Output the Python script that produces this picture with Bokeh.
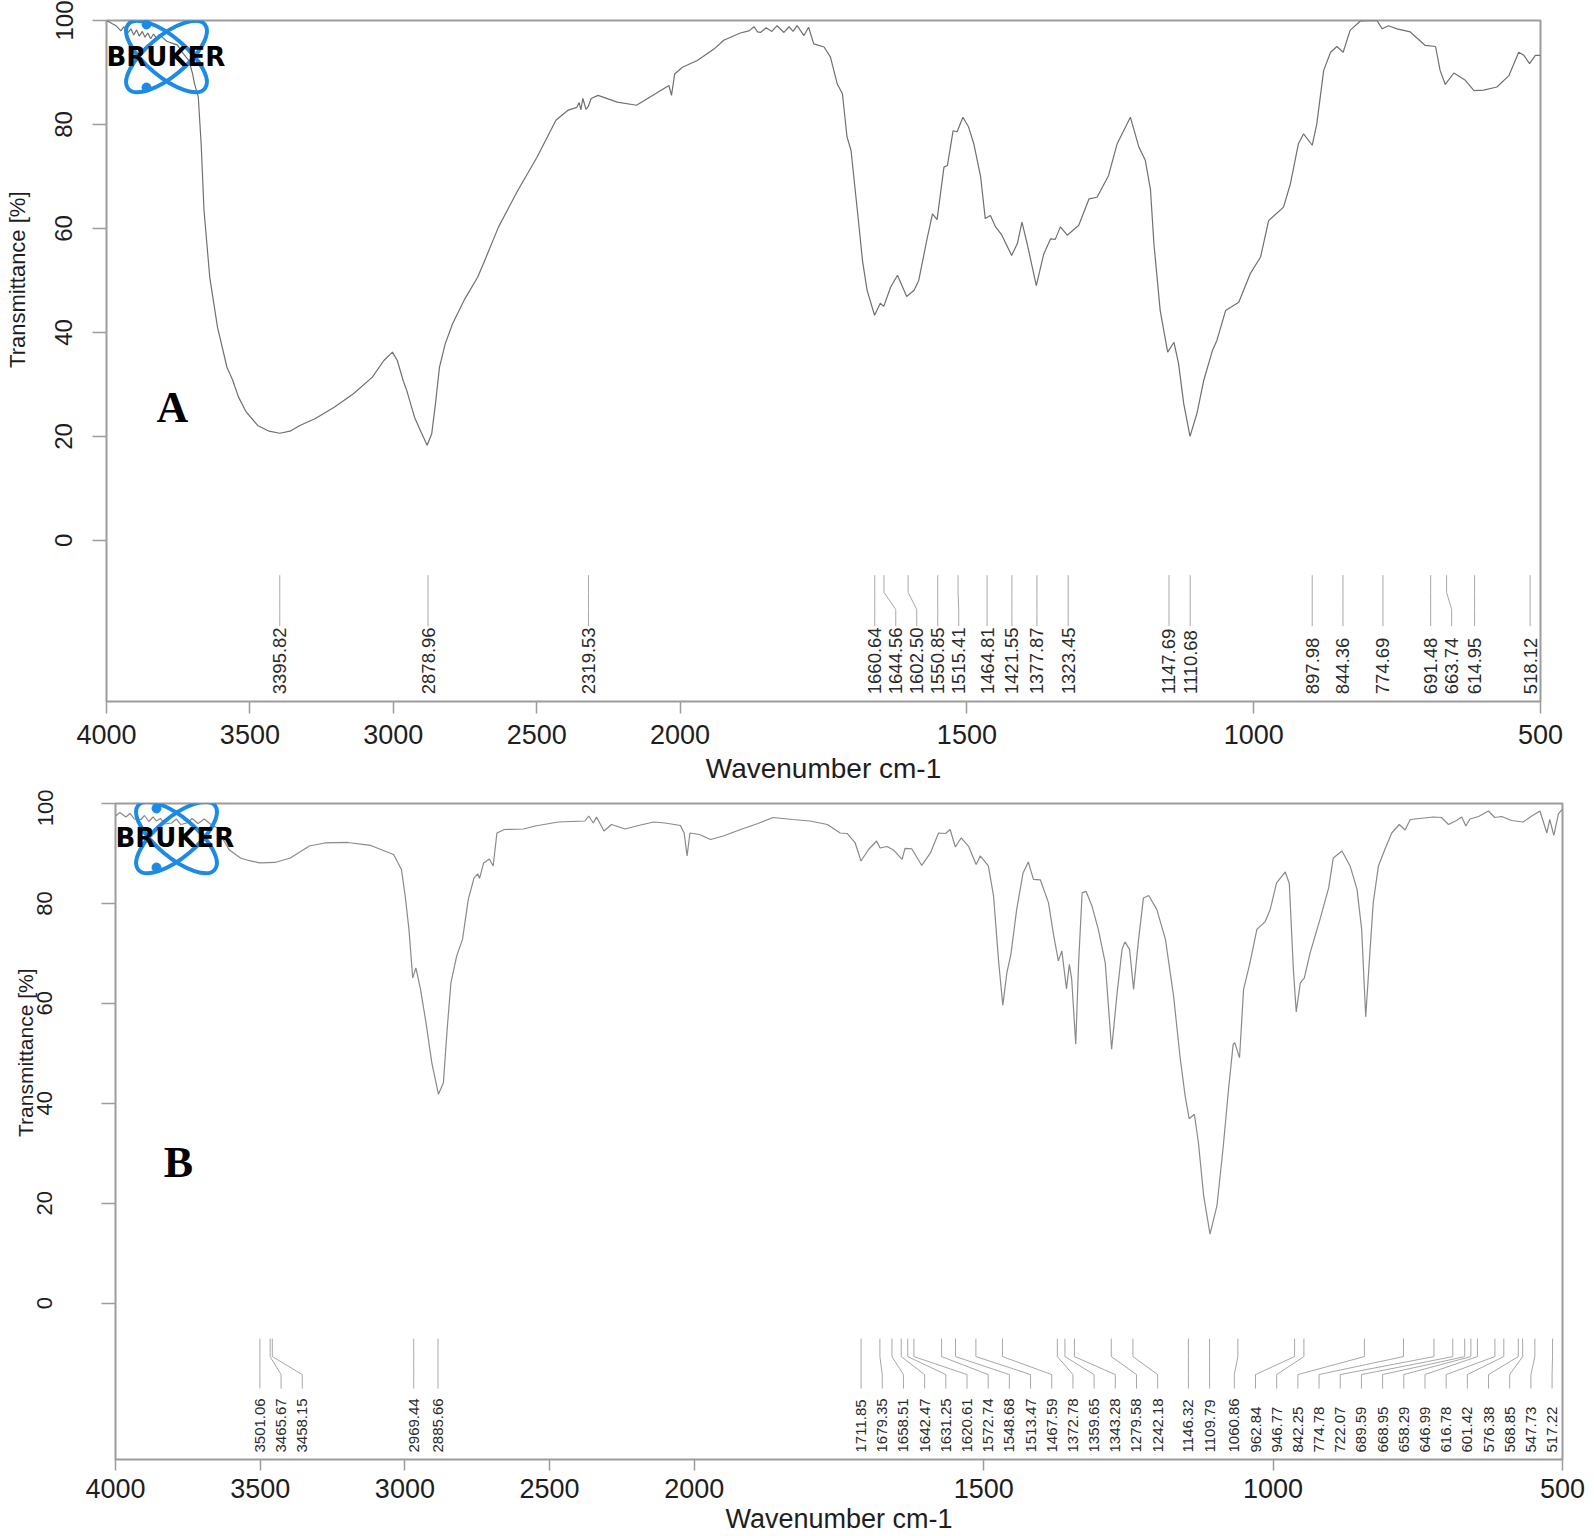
import math
import numpy as np
from bokeh.plotting import figure
from bokeh.models import Range1d, FixedTicker, Title
from bokeh.core.properties import value
from bokeh.embed import file_html
from bokeh.resources import INLINE

# ---------------- data ----------------
XTICK_WN = [4000, 3500, 3000, 2500, 2000, 1500, 1000, 500]
YTICKS = [0, 20, 40, 60, 80, 100]
X_TITLE = "Wavenumber cm-1"
Y_TITLE = "Transmittance [%]"

A_WN = [4000, 3967, 3950, 3940, 3926, 3915, 3905, 3895, 3886, 3875, 3866, 3856, 3846, 3836, 3826,
        3816, 3806, 3790, 3770, 3753, 3735, 3713, 3700, 3693, 3680, 3670, 3660, 3640, 3613, 3580,
        3560, 3540, 3513, 3473, 3433, 3396, 3360, 3326, 3273, 3206, 3139, 3073, 3033, 3003, 2986,
        2966, 2953, 2926, 2906, 2882, 2866, 2853, 2839, 2819, 2793, 2753, 2706, 2686, 2633, 2566,
        2499, 2433, 2392, 2360, 2352, 2346, 2339, 2328, 2320, 2310, 2286, 2219, 2152, 2086, 2039,
        2030, 2019, 1996, 1970, 1941, 1924, 1895, 1880, 1871, 1865, 1860, 1850, 1840, 1831, 1819,
        1810, 1803, 1796, 1784, 1776, 1767, 1749, 1738, 1726, 1717, 1709, 1702, 1691, 1682, 1674,
        1661, 1651, 1645, 1633, 1621, 1605, 1592, 1584, 1570, 1560, 1552, 1540, 1534, 1524, 1517,
        1507, 1497, 1488, 1476, 1468, 1459, 1450, 1439, 1422, 1412, 1404, 1395, 1379, 1366, 1354,
        1346, 1337, 1325, 1305, 1287, 1273, 1253, 1238, 1215, 1200, 1189, 1180, 1174, 1163, 1150,
        1139, 1131, 1122, 1111, 1099, 1087, 1072, 1064, 1049, 1026, 1006, 988, 974, 948, 936,
        922, 913, 898, 890, 878, 866, 855, 844, 832, 814, 785, 776, 765, 750, 727,
        701, 683, 675, 666, 651, 631, 616, 599, 576, 555, 538, 529, 519, 509, 500]
A_T = [100.0, 99.0, 98.0, 98.8, 97.6, 98.4, 97.2, 98.2, 97.0, 97.9, 96.8, 97.6, 96.5, 97.4, 96.6,
       97.3, 96.8, 96.0, 95.6, 95.3, 93.8, 92.3, 89.8, 87.8, 85.3, 76.3, 63.5, 50.6, 41.0, 33.3,
       30.8, 27.6, 24.7, 22.1, 21.0, 20.6, 21.0, 22.1, 23.4, 25.6, 28.2, 31.4, 34.6, 36.2, 34.6,
       30.8, 28.8, 23.7, 21.2, 18.3, 20.5, 26.3, 33.3, 37.8, 41.7, 46.2, 50.6, 53.2, 60.3, 67.3,
       73.7, 80.8, 82.7, 83.3, 84.2, 82.8, 85.0, 82.9, 83.5, 85.0, 85.6, 84.3, 83.7, 85.9, 87.5,
       85.6, 89.7, 91.0, 92.3, 94.5, 96.2, 97.6, 98.0, 98.8, 97.8, 97.7, 98.6, 97.9, 99.0, 97.7,
       98.8, 97.9, 99.0, 97.1, 98.7, 95.5, 94.9, 93.0, 87.8, 85.9, 77.6, 75.0, 63.5, 53.8, 48.1,
       43.3, 45.6, 45.0, 48.7, 51.0, 46.9, 48.1, 50.0, 57.7, 62.8, 61.7, 71.8, 72.1, 78.8, 78.6,
       81.4, 79.5, 76.3, 69.9, 61.9, 62.5, 60.3, 58.7, 54.8, 57.1, 61.2, 57.1, 49.0, 55.1, 58.0,
       57.9, 60.3, 58.7, 60.6, 65.7, 66.0, 70.2, 76.3, 81.4, 75.6, 73.1, 67.5, 57.1, 44.2, 36.2,
       38.1, 34.0, 26.3, 20.0, 24.4, 30.8, 36.5, 38.5, 44.2, 45.8, 51.3, 54.5, 61.5, 64.1, 68.6,
       76.3, 78.2, 76.0, 80.1, 90.4, 93.9, 95.0, 93.9, 98.1, 99.9, 100.0, 98.4, 99.0, 98.4, 97.8,
       95.2, 95.0, 90.4, 87.7, 89.9, 88.5, 86.5, 86.6, 87.2, 89.4, 93.9, 93.3, 91.7, 93.3, 93.3]
A_PEAKS = [3395.82, 2878.96, 2319.53, 1660.64, 1644.56, 1602.50, 1550.85, 1515.41, 1464.81,
           1421.55, 1377.87, 1323.45, 1147.69, 1110.68, 897.98, 844.36, 774.69, 691.48, 663.74,
           614.95, 518.12]

B_WN = [4000, 3985, 3964, 3950, 3935, 3912, 3900, 3885, 3870, 3859, 3845, 3830, 3806, 3790, 3775,
        3753, 3735, 3715, 3693, 3670, 3647, 3630, 3608, 3590, 3568, 3540, 3502, 3449, 3396, 3330,
        3277, 3198, 3118, 3039, 3012, 2999, 2986, 2973, 2962, 2946, 2927, 2907, 2884, 2867, 2854,
        2841, 2821, 2801, 2781, 2761, 2748, 2742, 2728, 2708, 2695, 2682, 2656, 2590, 2550, 2470,
        2378, 2365, 2349, 2338, 2312, 2286, 2239, 2193, 2140, 2101, 2048, 2035, 2025, 2015, 1991,
        1972, 1950, 1920, 1890, 1864, 1830, 1800, 1770, 1748, 1736, 1722, 1712, 1699, 1685, 1679,
        1667, 1656, 1641, 1636, 1624, 1607, 1592, 1578, 1566, 1558, 1549, 1539, 1526, 1513, 1506,
        1492, 1483, 1474, 1467, 1460, 1453, 1443, 1432, 1423, 1414, 1402, 1388, 1379, 1371, 1365,
        1357, 1352, 1348, 1341, 1336, 1330, 1323, 1313, 1302, 1290, 1279, 1270, 1261, 1256, 1248,
        1241, 1233, 1224, 1215, 1201, 1186, 1172, 1161, 1152, 1145, 1136, 1129, 1120, 1109, 1097,
        1086, 1077, 1069, 1066, 1058, 1051, 1040, 1028, 1014, 1005, 994, 979, 972, 965, 960,
        953, 946, 936, 919, 904, 896, 881, 867, 855, 847, 840, 832, 827, 818, 807,
        795, 782, 772, 763, 723, 709, 697, 683, 674, 667, 660, 645, 628, 617, 605,
        588, 568, 553, 539, 527, 522, 515, 507, 500]
B_T = [97.5, 98.2, 97.3, 98.0, 96.9, 96.8, 97.6, 96.4, 97.3, 96.5, 97.0, 95.9, 96.1, 96.9, 95.8,
       96.1, 97.0, 96.0, 96.9, 95.8, 95.1, 93.0, 90.8, 90.0, 89.1, 88.6, 88.1, 88.2, 89.1, 91.5,
       92.1, 92.2, 91.6, 89.8, 86.8, 81.5, 74.8, 65.1, 67.1, 62.8, 56.1, 48.1, 41.8, 44.1, 54.8,
       64.1, 69.5, 72.8, 80.8, 85.1, 85.9, 85.0, 88.1, 88.9, 87.5, 94.1, 94.8, 94.9, 95.5, 96.3,
       96.5, 97.5, 96.1, 97.3, 94.5, 95.8, 94.9, 95.6, 96.3, 96.1, 95.6, 94.1, 89.5, 94.1, 93.8,
       92.8, 93.5, 94.8, 96.0, 97.2, 96.8, 96.5, 95.8, 94.1, 94.0, 92.1, 88.5, 90.8, 92.5, 91.1,
       91.4, 90.7, 88.8, 91.0, 90.9, 87.6, 90.1, 94.1, 94.0, 94.8, 91.3, 93.1, 91.4, 87.8, 89.5,
       87.5, 81.5, 68.1, 59.6, 66.1, 69.8, 78.8, 86.1, 88.3, 84.8, 84.7, 80.1, 73.5, 68.5, 70.5,
       62.9, 67.8, 64.9, 51.8, 68.1, 82.1, 82.4, 79.5, 74.8, 68.1, 50.8, 61.5, 70.8, 72.3, 70.8,
       62.8, 72.2, 81.1, 81.6, 78.8, 72.8, 61.5, 49.5, 41.5, 36.9, 37.8, 32.1, 21.5, 13.8, 19.5,
       31.5, 42.8, 51.8, 52.1, 49.1, 62.8, 68.1, 74.8, 76.3, 78.8, 84.1, 86.3, 84.0, 66.8, 58.3,
       64.1, 65.1, 70.1, 76.8, 83.1, 89.1, 90.5, 87.5, 82.8, 74.8, 57.3, 71.5, 80.1, 87.5, 90.8,
       94.1, 95.8, 94.7, 96.8, 97.3, 97.2, 95.8, 96.6, 97.3, 95.5, 96.9, 97.4, 98.5, 97.2, 97.4,
       96.6, 96.3, 97.5, 98.5, 94.1, 96.8, 93.6, 97.9, 98.9]
B_PEAKS = [3501.06, 3465.67, 3458.15, 2969.44, 2885.66, 1711.85, 1679.35, 1658.51, 1642.47,
           1631.25, 1620.61, 1572.74, 1548.68, 1513.47, 1467.59, 1372.78, 1359.65, 1343.28,
           1279.58, 1242.18, 1146.32, 1109.79, 1060.86, 962.84, 946.77, 842.25, 774.78, 722.07,
           689.59, 668.95, 658.29, 646.99, 616.78, 601.42, 576.38, 568.85, 547.73, 517.22]

# ---------------- helpers ----------------
U_MAX = 2500.0


def to_u(wn):
    """Split wavenumber scale: 4000-2000 compressed 2x, 2000-500 expanded."""
    wn = np.asarray(wn, dtype=float)
    return np.where(wn >= 2000, (4000.0 - wn) / 2.0, 1000.0 + (2000.0 - wn))


def spread(tu, gap, hi):
    p = []
    for t in tu:
        p.append(t if not p else max(t, p[-1] + gap))
    for i in range(len(p) - 1, -1, -1):
        lim = hi if i == len(p) - 1 else p[i + 1] - gap
        p[i] = min(p[i], lim)
    return p


FONT = "Liberation Sans"
TXT = "#1e1e1e"
FRAME = "#9c9c9c"
BLUE = "#1b8be6"


def panel(wn, tr, peaks, letter, c):
    fw, fh = c["fw"], c["fh"]
    y0 = c["y0"]
    p = figure(frame_width=fw, frame_height=fh,
               x_range=Range1d(0, U_MAX), y_range=Range1d(y0, 100),
               output_backend="svg", toolbar_location=None,
               min_border_left=c["bl"], min_border_right=c["br"],
               min_border_top=c["bt"], min_border_bottom=c["bb"])
    sx = fw / U_MAX
    sy = fh / (100.0 - y0)
    p.xgrid.visible = False
    p.ygrid.visible = False
    p.outline_line_color = FRAME
    p.outline_line_width = 2

    # x axis
    tu = [float(v) for v in to_u(XTICK_WN)]
    xa = p.xaxis[0]
    xa.ticker = FixedTicker(ticks=tu, minor_ticks=[])
    xa.major_label_overrides = {u: str(w) for u, w in zip(tu, XTICK_WN)}
    xa.axis_line_color = None
    xa.major_tick_line_color = FRAME
    xa.major_tick_line_width = 1.5
    xa.major_tick_out = c["xtick"]
    xa.major_tick_in = 0
    xa.minor_tick_line_color = None
    xa.major_label_text_font = FONT
    xa.major_label_text_font_size = c["xfs"]
    xa.major_label_text_color = TXT
    xa.major_label_standoff = c["xls"]
    xa.axis_label = X_TITLE
    xa.axis_label_text_font = FONT
    xa.axis_label_text_font_style = "normal"
    xa.axis_label_text_font_size = c["xtfs"]
    xa.axis_label_text_color = TXT
    xa.axis_label_standoff = c["xts"]

    # y axis
    ya = p.yaxis[0]
    ya.ticker = FixedTicker(ticks=YTICKS, minor_ticks=[])
    ya.axis_line_color = None
    ya.major_tick_line_color = FRAME
    ya.major_tick_line_width = 1.5
    ya.major_tick_out = 14
    ya.major_tick_in = 0
    ya.minor_tick_line_color = None
    ya.major_label_orientation = "parallel"
    ya.major_label_text_font = FONT
    ya.major_label_text_font_size = c["yfs"]
    ya.major_label_text_color = TXT
    ya.major_label_standoff = c["yls"]
    if c["pad"] > 0:
        # blank axis label only reserves room between tick labels and the title
        ya.axis_label = " "
        ya.axis_label_text_font_size = "8px"
        ya.axis_label_standoff = c["pad"]

    # y title centred on the 0..100 span (not on the whole frame)
    p.add_layout(Title(text=Y_TITLE, align="right", offset=c["yto"],
                       standoff=c["yts"], text_font=FONT, text_font_style="normal",
                       text_font_size=c["ytfs"], text_color=TXT), "left")

    # spectrum
    p.line(to_u(wn), tr, line_color=c["lc"], line_width=1.2)

    # peak markers
    tpos = [float(v) for v in to_u(peaks)]
    lpos = spread(tpos, 36.6, U_MAX - 18)
    m = c["mk"]
    xs = [[t, t, q, q] for t, q in zip(tpos, lpos)]
    ys = [[m[0], m[1], m[2], m[3]] for _ in tpos]
    p.multi_line(xs, ys, line_color="#a8a8a8", line_width=1)
    p.text(x=lpos, y=[m[4]] * len(lpos), text=[f"{v:.2f}" for v in peaks],
           angle=math.pi / 2, text_align="left", text_baseline="middle",
           text_font=value(FONT), text_font_size=value(c["pfs"]), text_color="#2a2a2a")

    # panel letter
    lx, ly = c["letter"]
    p.text(x=[lx / sx], y=[100 - ly / sy], text=[letter], text_align="center",
           text_baseline="middle", text_font=value("Liberation Serif"),
           text_font_style="bold", text_font_size=value("44px"), text_color="black")

    # logo
    cx, cy = c["logo"]
    ux, uy = cx / sx, 100 - cy / sy
    p.ellipse(x=[ux, ux], y=[uy, uy], width=100, height=40, width_units="screen",
              height_units="screen", angle=[0.70, -0.70], fill_color=None,
              line_color=BLUE, line_width=4)
    d = c["dots"]
    p.scatter(x=[ux + d[0][0] / sx, ux + d[1][0] / sx],
              y=[uy - d[0][1] / sy, uy - d[1][1] / sy],
              size=9, color=BLUE)
    p.text(x=[0], y=[uy], text=["BRUKER"], text_align="left", text_baseline="middle",
           text_font=value("DejaVu Sans"), text_font_style="bold",
           text_font_size=value("26px"), text_color="black")
    return p


top_cfg = dict(fw=1434, fh=681, y0=-31.0, bl=106, br=54, bt=20, bb=88,
               xtick=12, xfs="27px", xls=11, xtfs="28px", xts=6,
               yfs="24px", yls=20, pad=9, yto=171, yts=4, ytfs="22px", lc="#707070",
               mk=(-6.7, -10.0, -13.3, -16.5, -29.6), pfs="18.5px",
               letter=(66, 387), logo=(60, 36), dots=((-20, -32), (-20, 31)))
bot_cfg = dict(fw=1447, fh=656, y0=-31.3, bl=115, br=32, bt=14, bb=77,
               xtick=11, xfs="27px", xls=8, xtfs="27px", xts=3,
               yfs="22px", yls=49, pad=0, yto=165, yts=-4, ytfs="21px", lc="#8a8a8a",
               mk=(-7.1, -10.7, -14.3, -17.1, -29.9), pfs="15px",
               letter=(63, 359), logo=(61, 34), dots=((-20, -29), (-20, 30)))

p1 = panel(A_WN, A_T, A_PEAKS, "A", top_cfg)
p2 = panel(B_WN, B_T, B_PEAKS, "B", bot_cfg)

open("out.html", "w").write(file_html([p1, p2], INLINE, title="FTIR spectra"))
